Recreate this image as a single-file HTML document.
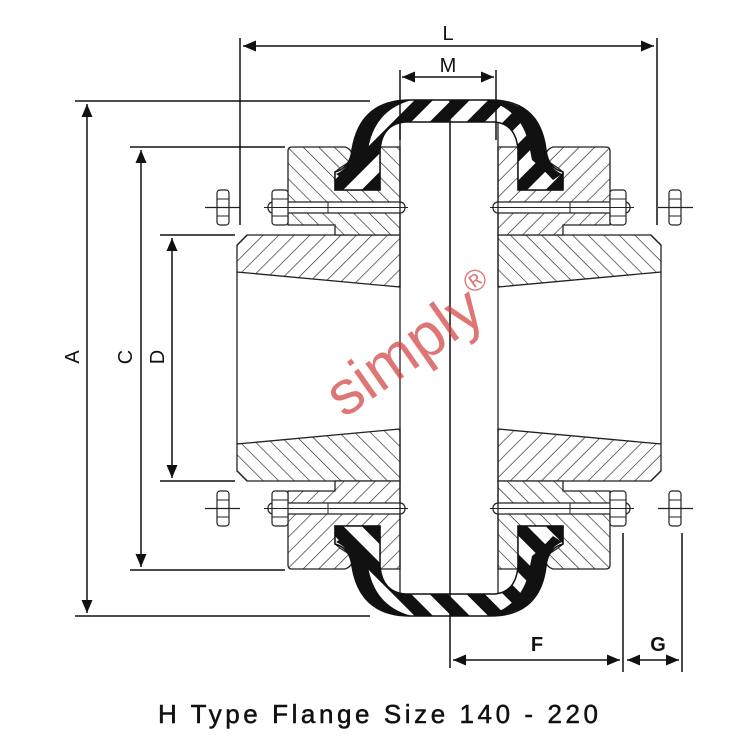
<!DOCTYPE html>
<html><head><meta charset="utf-8"><style>
html,body{margin:0;padding:0;background:#fff;}
svg{display:block;}
</style></head><body>
<svg width="756" height="744" viewBox="0 0 756 744" xmlns="http://www.w3.org/2000/svg" font-family="Liberation Sans, Arial, sans-serif">
<defs>
  <pattern id="h1" width="11" height="11" patternUnits="userSpaceOnUse" patternTransform="rotate(45)">
    <rect width="11" height="11" fill="#fff"/>
    <line x1="0" y1="0" x2="0" y2="11" stroke="#222" stroke-width="1.3"/>
  </pattern>
  <pattern id="h2" width="11" height="11" patternUnits="userSpaceOnUse" patternTransform="rotate(-45)">
    <rect width="11" height="11" fill="#fff"/>
    <line x1="0" y1="0" x2="0" y2="11" stroke="#222" stroke-width="1.3"/>
  </pattern>
  <pattern id="st" width="26" height="26" patternUnits="userSpaceOnUse" patternTransform="rotate(45)">
    <rect width="26" height="26" fill="#fff"/>
    <rect width="13" height="26" fill="#111"/>
  </pattern>
  <marker id="ar" viewBox="0 0 10 10" refX="10" refY="5" markerWidth="13" markerHeight="11" orient="auto-start-reverse" markerUnits="userSpaceOnUse" preserveAspectRatio="none">
    <path d="M0,0 L10,5 L0,10 Z" fill="#111"/>
  </marker>
  <g id="q">
    <path d="M247,235 L400,235 L400,287 L237,272 L237,245 Z" fill="url(#h1)" stroke="#222" stroke-width="1.3"/>
    <path d="M288,151 Q288,147 292,147 L345,147 Q354,150 352,160 L340,168 L335,172 L335,190 L380,190 L380,147 L400,147 L400,235 L335,235 L335,225 L288,225 Z" fill="url(#h2)" stroke="#222" stroke-width="1.3"/>
    <rect x="268" y="202" width="137" height="11" rx="5" fill="#fff" stroke="#222" stroke-width="1.2"/>
    <line x1="268" y1="207.5" x2="405" y2="207.5" stroke="#222" stroke-width="0.8"/>
    <line x1="328" y1="202" x2="328" y2="213" stroke="#222" stroke-width="1"/>
    <rect x="272" y="190" width="16" height="35" rx="3" fill="#fff" stroke="#222" stroke-width="1.2"/>
    <rect x="272" y="199" width="16" height="17" fill="none" stroke="#222" stroke-width="1"/>
    <line x1="264" y1="207.5" x2="408" y2="207.5" stroke="#222" stroke-width="1"/>
    <rect x="217" y="190" width="12" height="35" rx="3" fill="#fff" stroke="#222" stroke-width="1.2"/>
    <rect x="217" y="199" width="12" height="17" fill="none" stroke="#222" stroke-width="1"/>
    <line x1="205" y1="207.5" x2="240" y2="207.5" stroke="#222" stroke-width="1.2"/>
  </g>
  <g id="half">
    <use href="#q"/>
    <use href="#q" transform="translate(0,716) scale(1,-1)"/>
    <line x1="237" y1="272" x2="237" y2="444" stroke="#222" stroke-width="1.3"/>
    <line x1="400" y1="122" x2="400" y2="594" stroke="#222" stroke-width="1.3"/>
  </g>
  <path id="cres" d="M336,174 Q350,168 352,150 Q358,102 408,100 L412,100 Q374,110 368,150 L366,160 Q356,168 345,180 Z" fill="#111"/>
  <g id="tire">
    <path d="M335,190 L335,172 Q350,168 352,150 Q360,100 410,100 L490,100 Q540,100 546,150 Q548,168 563,172 L563,190 L518,190 L518,150 Q516,124 495,122 L405,122 Q382,124 380,150 L380,190 Z" fill="url(#st)" stroke="#111" stroke-width="1.5"/>
    <use href="#cres"/>
    <use href="#cres" transform="translate(898,0) scale(-1,1)"/>
  </g>
</defs>

<use href="#half"/>
<use href="#half" transform="translate(898,0) scale(-1,1)"/>
<use href="#tire"/>
<use href="#tire" transform="translate(0,716) scale(1,-1)"/>
<line x1="450" y1="100" x2="450" y2="668" stroke="#111" stroke-width="1.5"/>

<g stroke="#111" stroke-width="1.5" fill="none">
  <line x1="240" y1="38" x2="240" y2="225"/>
  <line x1="657" y1="38" x2="657" y2="225"/>
  <line x1="243" y1="46" x2="654" y2="46" marker-start="url(#ar)" marker-end="url(#ar)"/>
  <line x1="400" y1="70" x2="400" y2="140"/>
  <line x1="496" y1="70" x2="496" y2="140"/>
  <line x1="402" y1="77" x2="494" y2="77" marker-start="url(#ar)" marker-end="url(#ar)"/>
  <line x1="75" y1="101" x2="370" y2="101"/>
  <line x1="75" y1="616" x2="370" y2="616"/>
  <line x1="87" y1="104" x2="87" y2="613" marker-start="url(#ar)" marker-end="url(#ar)"/>
  <line x1="130" y1="147" x2="285" y2="147"/>
  <line x1="130" y1="570" x2="285" y2="570"/>
  <line x1="141" y1="150" x2="141" y2="567" marker-start="url(#ar)" marker-end="url(#ar)"/>
  <line x1="160" y1="235" x2="235" y2="235"/>
  <line x1="160" y1="481" x2="235" y2="481"/>
  <line x1="172" y1="238" x2="172" y2="478" marker-start="url(#ar)" marker-end="url(#ar)"/>
  <line x1="623" y1="533" x2="623" y2="672"/>
  <line x1="682" y1="533" x2="682" y2="672"/>
  <line x1="453" y1="660" x2="620" y2="660" marker-start="url(#ar)" marker-end="url(#ar)"/>
  <line x1="627" y1="660" x2="679" y2="660" marker-start="url(#ar)" marker-end="url(#ar)"/>
</g>

<g fill="#111" font-size="20">
  <text x="448" y="40" text-anchor="middle">L</text>
  <text x="448" y="72" text-anchor="middle">M</text>
  <text transform="translate(79,357) rotate(-90)" text-anchor="middle">A</text>
  <text transform="translate(132,357) rotate(-90)" text-anchor="middle">C</text>
  <text transform="translate(164,357) rotate(-90)" text-anchor="middle">D</text>
  <text x="537" y="651" text-anchor="middle" font-weight="bold">F</text>
  <text x="658" y="651" text-anchor="middle" font-weight="bold">G</text>
</g>

<text transform="translate(425,362) rotate(-35)" text-anchor="middle" font-size="62" fill="#d23c3c" fill-opacity="0.7">simply<tspan font-size="30" dy="-28">®</tspan></text>

<text x="158" y="723" font-size="26" textLength="440" lengthAdjust="spacing" fill="#111" stroke="#111" stroke-width="0.5">H Type Flange Size 140 - 220</text>
</svg>
</body></html>
